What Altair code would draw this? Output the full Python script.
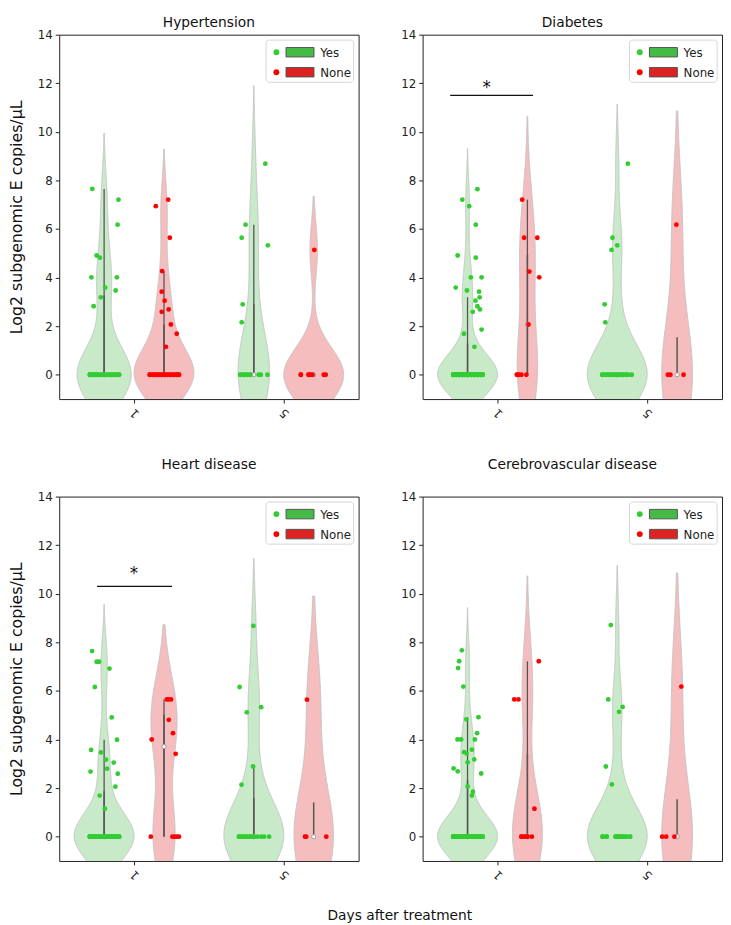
import altair as alt
import pandas as pd

PANELS = ["Hypertension", "Diabetes", "Heart disease", "Cerebrovascular disease"]
DAY_LABELS = ["1", "5"]
GROUPS = ["Yes", "None"]

# ---------------- values (log2 copies/uL) ----------------
# jitter = horizontal offset of each dot from its violin centre (category units)
ZJ_DENSE = [-0.095, -0.075, -0.055, -0.035, -0.015, 0.005, 0.025, 0.045, 0.065, 0.085, 0.100]

# Hypertension
hyp_d1_yes = [7.65, 7.21, 6.18, 4.91, 4.82, 4.01, 4.01, 3.59, 3.47, 3.19, 2.82]
hyp_d1_yes_jit = [-0.079, 0.096, 0.090, -0.050, -0.028, -0.085, 0.085, 0.007, 0.077, -0.022, -0.070]
hyp_d1_no = [7.21, 6.94, 5.64, 4.27, 3.42, 3.05, 2.69, 2.59, 2.07, 1.69, 1.15]
hyp_d1_no_jit = [0.028, -0.055, 0.039, -0.013, -0.015, 0.004, 0.031, -0.015, 0.046, 0.085, 0.013]
hyp_d5_yes = [8.69, 6.18, 5.64, 5.33, 2.90, 2.16]
hyp_d5_yes_jit = [0.077, -0.055, -0.081, 0.094, -0.074, -0.081]
hyp_d5_yes_zjit = [-0.090, -0.068, -0.046, -0.024, 0.032, 0.047, 0.091]
hyp_d5_no = [5.14]
hyp_d5_no_jit = [0.004]
hyp_d5_no_zjit = [-0.086, -0.034, -0.021, -0.008, 0.067, 0.080]
hyp_zeros = [25, 22, 11, 8]

# Diabetes
dia_d1_yes = [7.64, 7.21, 6.94, 6.18, 4.91, 4.82, 4.01, 4.01, 3.59, 3.47, 3.42, 3.05, 3.19,
              2.82, 2.69, 2.59, 1.69, 1.86, 1.15]
dia_d1_yes_jit = [0.066, -0.035, 0.011, 0.055, -0.066, 0.055, 0.022, 0.094, -0.079, -0.004, 0.077,
                  0.053, 0.081, 0.066, 0.083, 0.035, -0.024, 0.094, 0.046]
dia_d1_no = [7.21, 5.64, 5.64, 4.25, 4.01, 2.07]
dia_d1_no_jit = [-0.035, -0.022, 0.066, 0.013, 0.079, 0.007]
dia_d1_no_zjit = [-0.071, -0.057, -0.040, -0.007, -0.064]
dia_d5_yes = [8.69, 5.64, 5.33, 5.14, 2.90, 2.16]
dia_d5_yes_jit = [0.071, -0.032, 0.000, -0.038, -0.084, -0.080]
dia_d5_yes_zjit = [-0.100, -0.080, -0.060, -0.040, -0.020, 0.000, 0.020, 0.038, 0.060, 0.077, 0.097]
dia_d5_no = [6.18]
dia_d5_no_jit = [-0.005]
dia_d5_no_zjit = [-0.062, -0.045, 0.043]
dia_zeros = [53, 5, 20, 3]

# Heart disease
hrt_d1_yes = [7.64, 7.20, 7.20, 6.92, 6.16, 4.91, 3.99, 3.57, 3.47, 3.17, 3.05, 2.80, 2.68,
              2.59, 2.06, 1.69, 1.15]
hrt_d1_yes_jit = [-0.080, -0.050, -0.034, 0.036, -0.062, 0.051, 0.086, -0.087, -0.021, 0.012,
                  0.064, 0.020, -0.091, 0.091, 0.075, -0.030, 0.005]
hrt_d1_no = [5.65, 5.65, 5.65, 4.81, 4.26, 4.00, 3.41]
hrt_d1_no_jit = [0.019, 0.030, 0.047, 0.032, 0.060, -0.082, 0.078]
hrt_d1_no_zjit = [-0.088, 0.056, 0.071, 0.086, 0.100]
hrt_d5_yes = [8.68, 6.16, 5.33, 5.12, 2.89, 2.14]
hrt_d5_yes_jit = [-0.003, -0.095, 0.049, -0.047, -0.005, -0.082]
hrt_d5_yes_zjit = [-0.099, -0.080, -0.060, -0.040, -0.020, 0.000, 0.025, 0.050, 0.069, 0.102]
hrt_d5_no = [5.64]
hrt_d5_no_jit = [-0.045]
hrt_d5_no_zjit = [-0.058, 0.084, -0.050]
hrt_zeros = [42, 5, 16, 3]

# Cerebrovascular disease
cer_d1_yes = [7.67, 7.22, 6.94, 6.18, 4.92, 4.83, 4.26, 4.00, 4.00, 4.00, 3.48, 3.42, 3.58,
              3.06, 3.18, 2.81, 2.69, 2.60, 2.07, 1.85, 1.69]
cer_d1_yes_jit = [-0.038, -0.056, -0.063, -0.028, 0.073, -0.008, 0.064, -0.067, -0.043, 0.049,
                  -0.023, -0.006, 0.029, 0.001, 0.045, -0.093, -0.065, 0.091, 0.001, 0.036, 0.029]
cer_d1_no = [7.22, 5.65, 5.65, 1.15]
cer_d1_no_jit = [0.076, -0.088, -0.060, 0.047]
cer_d1_no_zjit = [-0.040, -0.018, 0.000, 0.030]
cer_d5_yes = [8.71, 5.65, 5.34, 5.14, 2.89, 2.15]
cer_d5_yes_jit = [-0.043, -0.060, 0.036, 0.012, -0.076, -0.036]
cer_d5_yes_zjit = [-0.097, -0.071, -0.010, 0.005, 0.020, 0.040, 0.060, 0.086]
cer_d5_no = [6.18]
cer_d5_no_jit = [0.028]
cer_d5_no_zjit = [-0.100, -0.073, -0.018]
cer_zeros = [50, 7, 20, 3]

# significance annotations
sig_panels = ["Diabetes", "Heart disease"]
sig_x1 = [-0.316, -0.248]
sig_x2 = [0.238, 0.254]
sig_y = [11.5, 10.3]
star_x = [-0.072, 0.0]
star_y = [11.6, 10.6]

legend_labels = ["Yes", "None"]
dot_colors = ["#33cc33", "#ff0000"]
violin_fills = ["#c8eac8", "#f5bdbd"]
legend_rect_colors = ["#44bb44", "#dd2222"]

SPECS = [
    ("Hypertension", 0, "Yes", hyp_d1_yes, hyp_d1_yes_jit, hyp_zeros[0], ZJ_DENSE),
    ("Hypertension", 0, "None", hyp_d1_no, hyp_d1_no_jit, hyp_zeros[1], ZJ_DENSE),
    ("Hypertension", 1, "Yes", hyp_d5_yes, hyp_d5_yes_jit, hyp_zeros[2], hyp_d5_yes_zjit),
    ("Hypertension", 1, "None", hyp_d5_no, hyp_d5_no_jit, hyp_zeros[3], hyp_d5_no_zjit),
    ("Diabetes", 0, "Yes", dia_d1_yes, dia_d1_yes_jit, dia_zeros[0], ZJ_DENSE),
    ("Diabetes", 0, "None", dia_d1_no, dia_d1_no_jit, dia_zeros[1], dia_d1_no_zjit),
    ("Diabetes", 1, "Yes", dia_d5_yes, dia_d5_yes_jit, dia_zeros[2], dia_d5_yes_zjit),
    ("Diabetes", 1, "None", dia_d5_no, dia_d5_no_jit, dia_zeros[3], dia_d5_no_zjit),
    ("Heart disease", 0, "Yes", hrt_d1_yes, hrt_d1_yes_jit, hrt_zeros[0], ZJ_DENSE),
    ("Heart disease", 0, "None", hrt_d1_no, hrt_d1_no_jit, hrt_zeros[1], hrt_d1_no_zjit),
    ("Heart disease", 1, "Yes", hrt_d5_yes, hrt_d5_yes_jit, hrt_zeros[2], hrt_d5_yes_zjit),
    ("Heart disease", 1, "None", hrt_d5_no, hrt_d5_no_jit, hrt_zeros[3], hrt_d5_no_zjit),
    ("Cerebrovascular disease", 0, "Yes", cer_d1_yes, cer_d1_yes_jit, cer_zeros[0], ZJ_DENSE),
    ("Cerebrovascular disease", 0, "None", cer_d1_no, cer_d1_no_jit, cer_zeros[1], cer_d1_no_zjit),
    ("Cerebrovascular disease", 1, "Yes", cer_d5_yes, cer_d5_yes_jit, cer_zeros[2], cer_d5_yes_zjit),
    ("Cerebrovascular disease", 1, "None", cer_d5_no, cer_d5_no_jit, cer_zeros[3], cer_d5_no_zjit),
]

rows = []
for panel, day, grp, vals, jit, nz, zjit in SPECS:
    for v, j in zip(vals, jit):
        rows.append({"panel": panel, "day": day, "grp": grp, "value": v, "jit": j})
    for k in range(nz):
        rows.append({"panel": panel, "day": day, "grp": grp, "value": 0.0, "jit": zjit[k % len(zjit)]})
df = pd.DataFrame(rows)

sig_df = pd.DataFrame({"panel": sig_panels, "x1": sig_x1, "x2": sig_x2, "y": sig_y,
                       "sx": star_x, "sy": star_y})

FONT = "DejaVu Sans"
W, H = 304, 370
CENTER = 'datum.day + (datum.grp == "Yes" ? -0.2 : 0.2)'


def xenc(field, **kw):
    return alt.X(field, type="quantitative",
                 scale=alt.Scale(domain=[-0.5, 1.5], nice=False, zero=False),
                 axis=alt.Axis(values=[0, 1], labelExpr="datum.value == 0 ? '1' : '5'",
                               labelAngle=225, labelAlign="center", labelBaseline="middle",
                               labelPadding=10, title=None), **kw)


def yenc(field, ytitle):
    ax = alt.Axis(values=list(range(0, 15, 2)), title=ytitle, titlePadding=13,
                  titleFontSize=16) if ytitle else alt.Axis(values=list(range(0, 15, 2)), title=None)
    return alt.Y(field, type="quantitative",
                 scale=alt.Scale(domain=[-1, 14], nice=False, zero=False), axis=ax)


def make_panel(name, ytitle, title_offset):
    base = alt.Chart(df).transform_filter(alt.datum.panel == name)

    violin = base.transform_joinaggregate(
        sd="stdev(value)", n="count()", vmin="min(value)", vmax="max(value)",
        groupby=["day", "grp"]
    ).transform_calculate(
        bw="datum.sd * pow(datum.n, -0.2)"
    ).transform_calculate(
        z="datum.value / datum.bw",
        zlo="datum.vmin / datum.bw - 2",
        zhi="datum.vmax / datum.bw + 2",
    ).transform_density(
        "z", groupby=["day", "grp", "bw", "zlo", "zhi"], bandwidth=1,
        extent=[-2.5, 12.5], steps=700, as_=["z", "dens"]
    ).transform_filter(
        "datum.z >= datum.zlo && datum.z <= datum.zhi"
    ).transform_calculate(
        v="datum.z * datum.bw", d="datum.dens / datum.bw"
    ).transform_joinaggregate(
        dmax="max(d)", groupby=["day"]
    ).transform_calculate(
        c=CENTER, hw="0.2 * datum.d / datum.dmax"
    ).transform_calculate(
        xl="datum.c - datum.hw", xr="datum.c + datum.hw"
    ).mark_area(orient="horizontal", clip=True, stroke="#c4c4c4", strokeWidth=1,
                opacity=1).encode(
        x=xenc("xl"), x2="xr", y=yenc("v", ytitle),
        fill=alt.Fill("grp:N", scale=alt.Scale(domain=GROUPS, range=violin_fills), legend=None),
        detail="day:N",
    )

    stats = base.transform_joinaggregate(
        q1="q1(value)", q3="q3(value)", med="median(value)", groupby=["day", "grp"]
    ).transform_calculate(
        hi="datum.q3 + 1.5 * (datum.q3 - datum.q1)",
        lo="datum.q1 - 1.5 * (datum.q3 - datum.q1)",
    ).transform_filter(
        "datum.value <= datum.hi && datum.value >= datum.lo"
    ).transform_aggregate(
        h1="min(value)", h2="max(value)", groupby=["day", "grp", "q1", "q3", "med"]
    ).transform_calculate(xc=CENTER)

    whisk = stats.mark_rule(color="#555555", strokeWidth=1.3).encode(
        x=xenc("xc"), y=yenc("h1", ytitle), y2="h2")
    box = stats.mark_rule(color="#555555", strokeWidth=1.5).encode(
        x=xenc("xc"), y=yenc("q1", ytitle), y2="q3")
    med = stats.mark_point(shape="circle", filled=True, fill="white", stroke="#999999",
                           strokeWidth=1, size=18, opacity=1).encode(
        x=xenc("xc"), y=yenc("med", ytitle))

    pts = base.transform_calculate(
        xp=CENTER + " + datum.jit"
    ).mark_circle(size=24, opacity=1).encode(
        x=xenc("xp"), y=yenc("value", ytitle),
        color=alt.Color("grp:N", scale=alt.Scale(domain=GROUPS, range=dot_colors), legend=None),
    )

    layers = [violin, whisk, box, med, pts]

    if name in sig_panels:
        sbase = alt.Chart(sig_df).transform_filter(alt.datum.panel == name)
        layers.append(sbase.mark_rule(color="#111111", strokeWidth=1.2).encode(
            x=xenc("x1"), x2="x2", y=yenc("y", ytitle)))
        layers.append(sbase.mark_text(text="*", fontSize=17, font=FONT, baseline="alphabetic",
                                      color="#111111").encode(
            x=xenc("sx"), y=yenc("sy", ytitle)))

    # legend box
    one = pd.DataFrame({"k": [0]})
    layers.append(alt.Chart(one).mark_rect(fill="white", stroke="#d6d6d6", strokeWidth=1,
                                           cornerRadius=3).encode(
        x=alt.value(W - 94), x2=alt.value(W - 5), y=alt.value(5.5), y2=alt.value(48.3)))
    for i, lab in enumerate(legend_labels):
        ry = 17.8 + 20.3 * i
        ldf = pd.DataFrame({"label": [lab]})
        lc = alt.Chart(ldf)
        layers.append(lc.mark_circle(size=36, color=dot_colors[i], opacity=1).encode(
            x=alt.value(W - 83.5), y=alt.value(ry)))
        layers.append(lc.mark_rect(fill=legend_rect_colors[i], stroke="#555555",
                                   strokeWidth=1).encode(
            x=alt.value(W - 73.7), x2=alt.value(W - 45.3),
            y=alt.value(ry - 4.8), y2=alt.value(ry + 4.8)))
        layers.append(lc.mark_text(align="left", baseline="middle", fontSize=12, font=FONT,
                                   color="#222222").encode(
            x=alt.value(W - 39), y=alt.value(ry + 0.5), text="label:N"))

    return alt.layer(*layers).properties(
        width=W, height=H,
        title=alt.TitleParams(name, fontSize=14, fontWeight="normal", font=FONT,
                              color="#111111", offset=title_offset),
    )


YT = "Log2 subgenomic E copies/μL"
p1 = make_panel("Hypertension", YT, -1)
p2 = make_panel("Diabetes", None, -1)
p3 = make_panel("Heart disease", YT, 19)
p4 = make_panel("Cerebrovascular disease", None, 19)

row1 = alt.hconcat(p1, p2, spacing=41)
row2 = alt.hconcat(p3, p4, spacing=41)

chart = alt.vconcat(row1, row2, spacing=37).properties(
    padding={"left": 0, "top": 0, "right": 0, "bottom": 0},
    title=alt.TitleParams("Days after treatment", orient="bottom", anchor="middle",
                          fontSize=14, fontWeight="normal", font=FONT, color="#111111",
                          dx=35, offset=27),
).configure_view(
    stroke="#222222", strokeWidth=1
).configure_axis(
    labelFont=FONT, labelFontSize=12, labelColor="#222222", tickColor="#222222",
    tickSize=4, domain=False, grid=False, titleFont=FONT, titleFontWeight="normal",
    titleColor="#111111", labelPadding=3,
)

chart.save("out.html", embed_options={"renderer": "svg", "actions": False})
